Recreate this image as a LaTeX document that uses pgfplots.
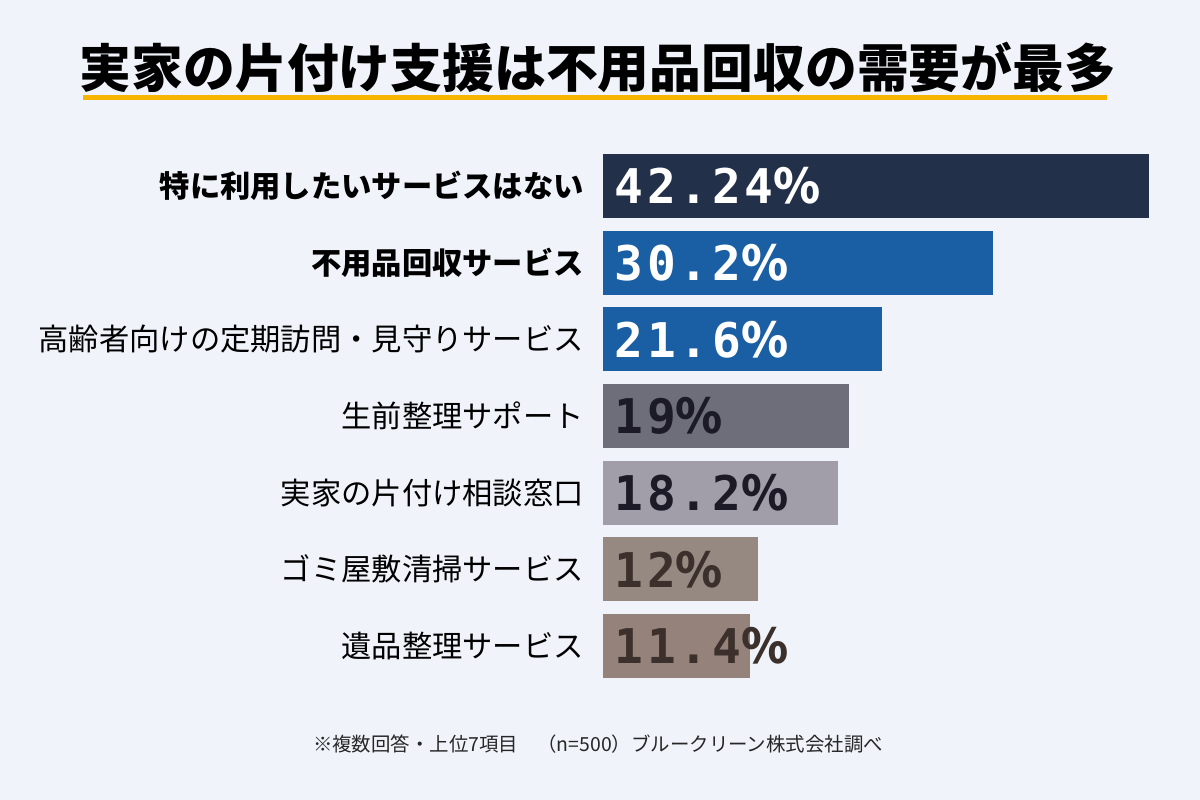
\documentclass[border=0pt]{standalone}
\usepackage{fontspec}
\usepackage{pgfplots}
\pgfplotsset{compat=1.18}
\setmainfont{Noto Sans CJK JP}
\newfontfamily\valfont{DejaVu Sans Mono}[LetterSpace=8]
\newfontfamily\pcfont{Noto Sans CJK JP}
\newcommand{\pc}{{\pcfont\bfseries\%}}
\definecolor{bg}{HTML}{F0F4FA}
\definecolor{c1}{HTML}{22304A}
\definecolor{c2}{HTML}{1A5FA3}
\definecolor{c3}{HTML}{1A5FA3}
\definecolor{c4}{HTML}{6E6E7A}
\definecolor{c5}{HTML}{A29EA9}
\definecolor{c6}{HTML}{968982}
\definecolor{c7}{HTML}{95827A}
\definecolor{uline}{HTML}{F8B500}
\definecolor{dk}{HTML}{1C1A26}
\definecolor{br}{HTML}{3B302B}
\begin{document}
\begin{tikzpicture}[x=1bp,y=1bp]
\fill[bg] (0,0) rectangle (1200,800);
\node[font=\fontsize{52}{60}\selectfont\bfseries, anchor=center] at (598,733) {実家の片付け支援は不用品回収の需要が最多};
\fill[uline] (83,700) rectangle (1107,705);
\begin{axis}[
  at={(603bp,115.7bp)}, anchor=south west,
  width=546bp, height=536.7bp, scale only axis,
  xmin=0, xmax=42.24, ymin=-0.5, ymax=6.5,
  y dir=reverse,
  axis line style={draw=none},
  major tick length=0pt,
  xtick=\empty,
  ytick={0,1,2,3,4,5,6},
  yticklabels={{\bfseries 特に利用したいサービスはない},{\bfseries 不用品回収サービス},高齢者向けの定期訪問・見守りサービス,生前整理サポート,実家の片付け相談窓口,ゴミ屋敷清掃サービス,遺品整理サービス},
  yticklabel style={font=\fontsize{30.4}{34}\selectfont, text=black, anchor=east, inner sep=0pt, xshift=-19bp},
  bar width=64bp,
  clip=false,
]
\addplot[xbar, bar shift=0pt, fill=c1, draw=none] coordinates {(42.24,0)};
\addplot[xbar, bar shift=0pt, fill=c2, draw=none] coordinates {(30.2,1)};
\addplot[xbar, bar shift=0pt, fill=c3, draw=none] coordinates {(21.6,2)};
\addplot[xbar, bar shift=0pt, fill=c4, draw=none] coordinates {(19,3)};
\addplot[xbar, bar shift=0pt, fill=c5, draw=none] coordinates {(18.2,4)};
\addplot[xbar, bar shift=0pt, fill=c6, draw=none] coordinates {(12,5)};
\addplot[xbar, bar shift=0pt, fill=c7, draw=none] coordinates {(11.4,6)};
\addplot[draw=none, mark=none, nodes near coords, point meta=explicit symbolic,
  every node near coord/.style={anchor=west, xshift=8bp, text=white, font=\fontsize{48}{50}\selectfont\valfont\bfseries}]
  coordinates {(0,0)[42.24\pc] (0,1)[30.2\pc] (0,2)[21.6\pc]};
\addplot[draw=none, mark=none, nodes near coords, point meta=explicit symbolic,
  every node near coord/.style={anchor=west, xshift=8bp, text=dk, font=\fontsize{48}{50}\selectfont\valfont\bfseries}]
  coordinates {(0,3)[19\pc] (0,4)[18.2\pc]};
\addplot[draw=none, mark=none, nodes near coords, point meta=explicit symbolic,
  every node near coord/.style={anchor=west, xshift=8bp, text=br, font=\fontsize{48}{50}\selectfont\valfont\bfseries}]
  coordinates {(0,5)[12\pc] (0,6)[11.4\pc]};
\end{axis}
\node[font=\fontsize{19.5}{22}\selectfont, text=black!85] at (598,56) {※複数回答・上位7項目　（n=500）ブルークリーン株式会社調べ};
\end{tikzpicture}
\end{document}
